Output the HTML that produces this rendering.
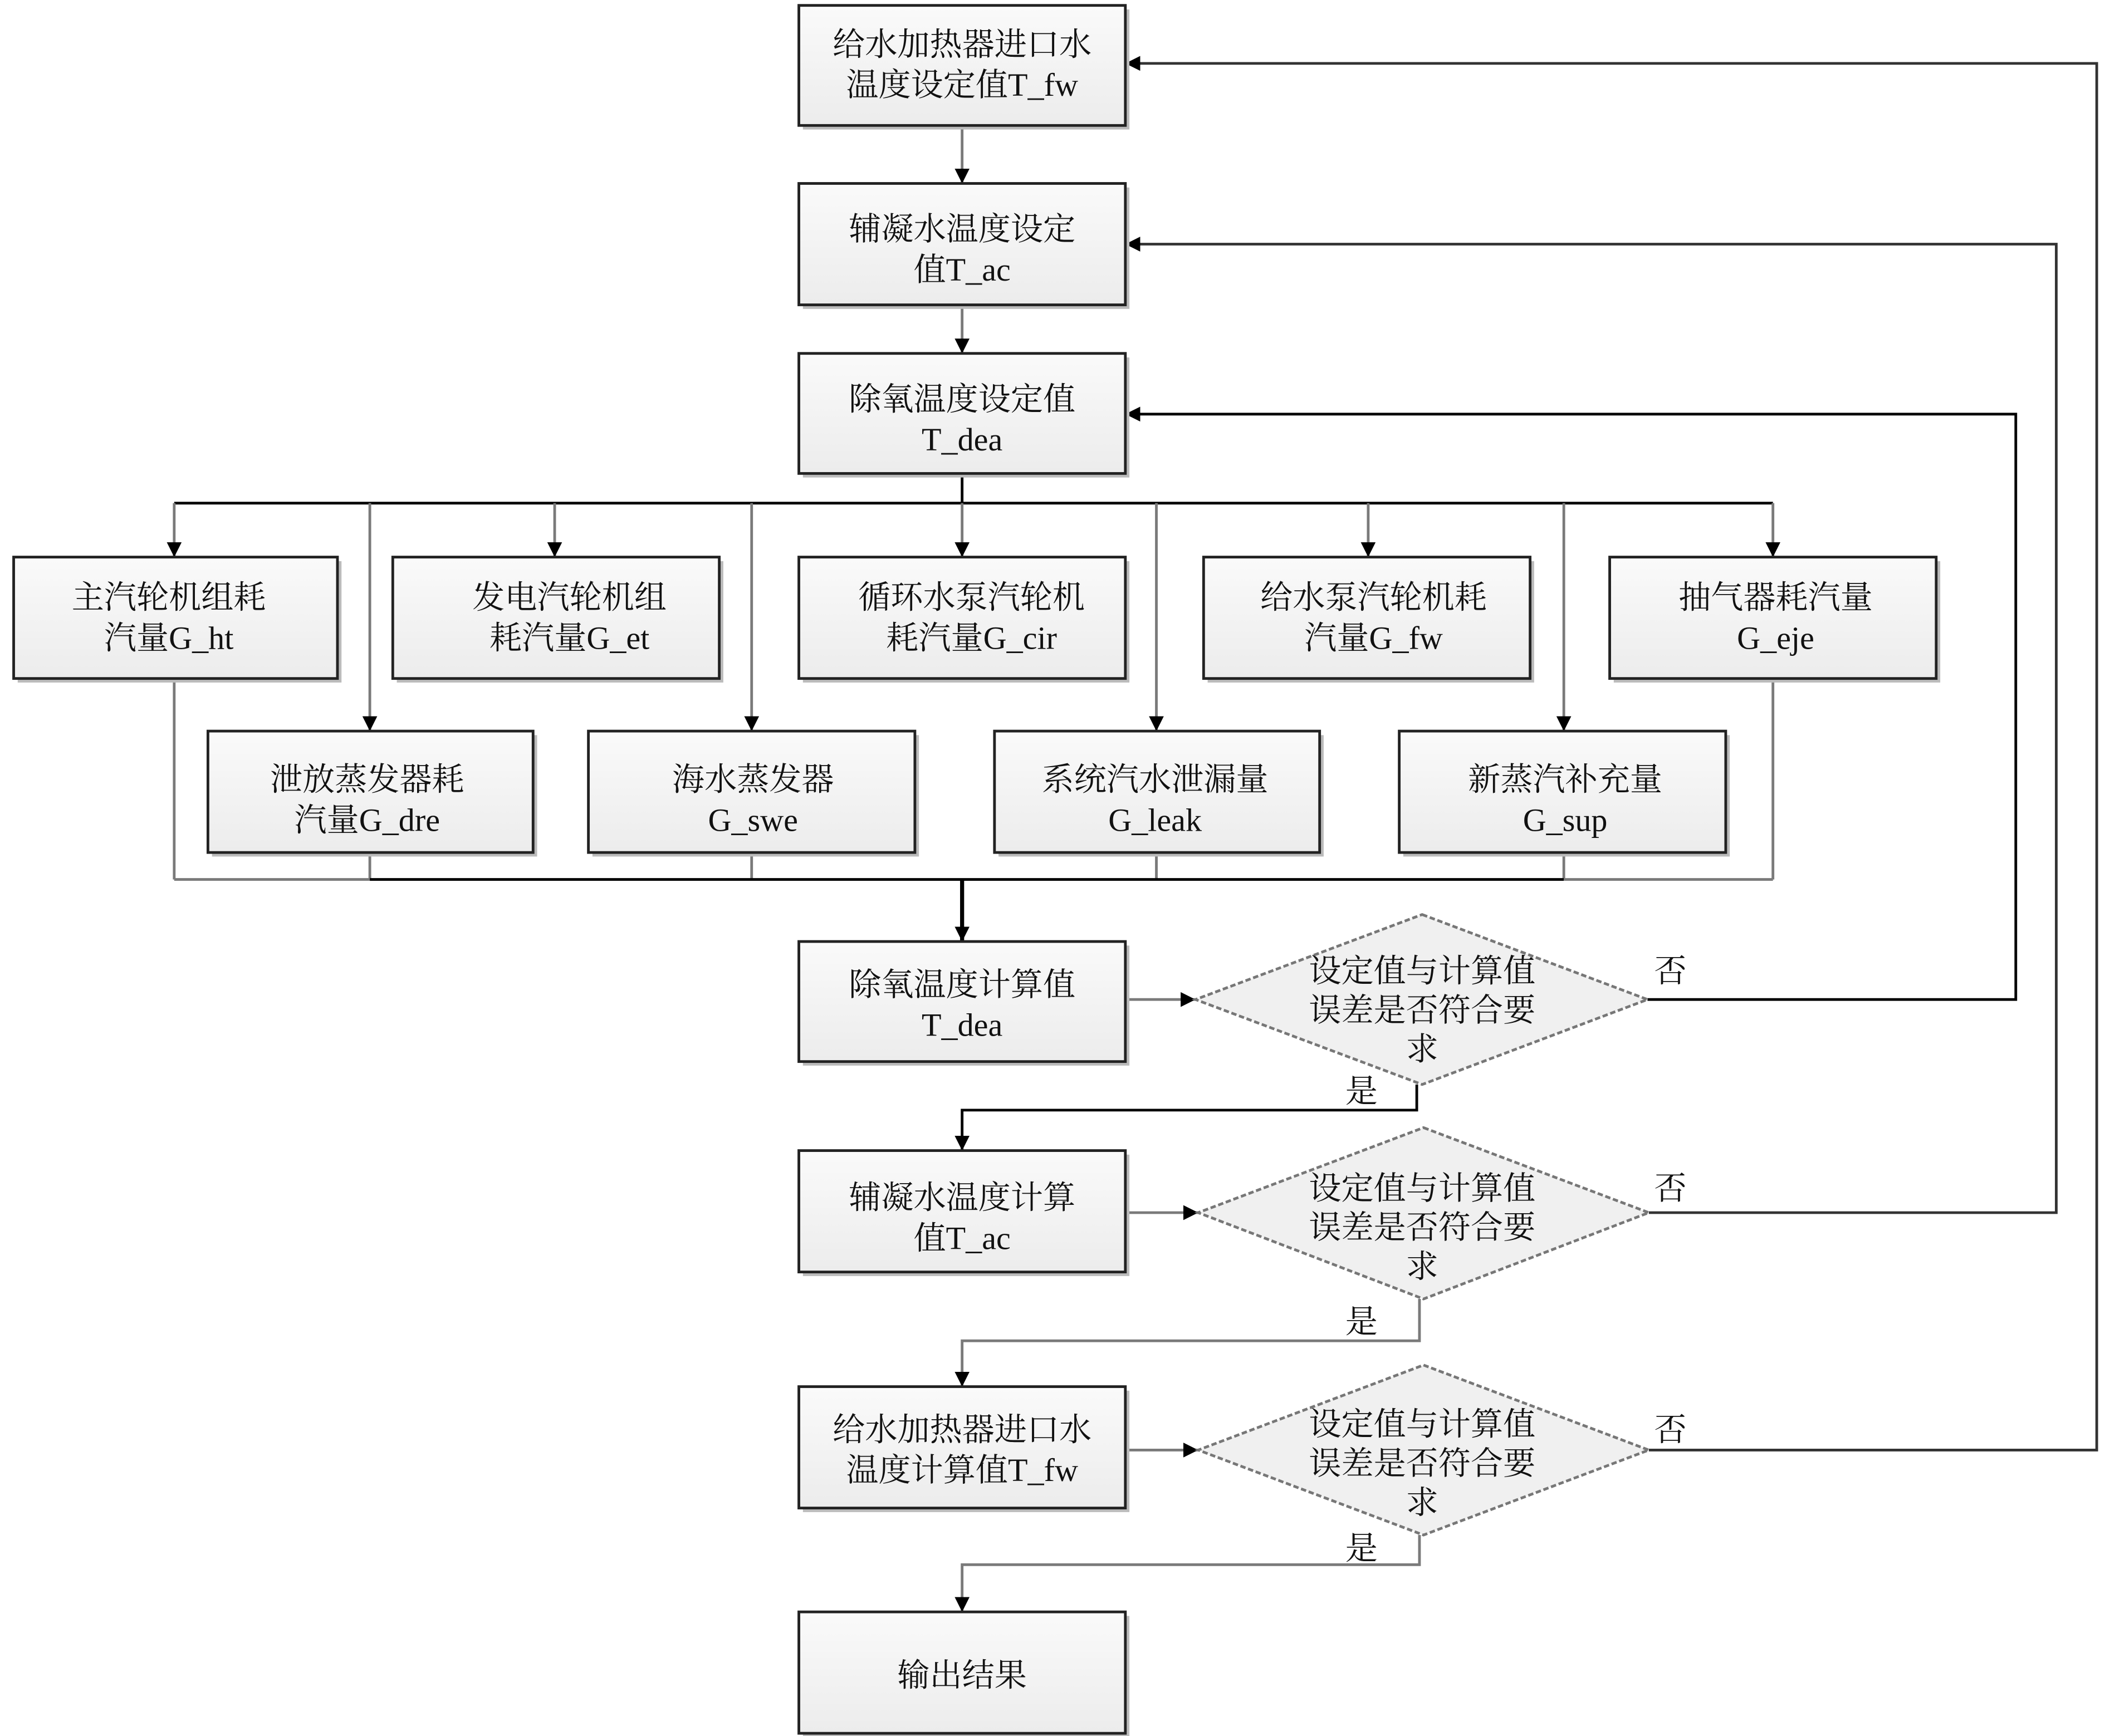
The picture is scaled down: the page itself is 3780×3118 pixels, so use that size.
<!DOCTYPE html>
<html><head><meta charset="utf-8"><style>
html,body{margin:0;padding:0;background:#fff;}
svg{display:block;}
text{font-family:"Liberation Serif","Noto Serif CJK SC",serif;font-size:24px;fill:#111;text-anchor:middle;}
</style></head><body>
<svg width="3780" height="3118" viewBox="0 0 1560 1287" xmlns="http://www.w3.org/2000/svg">
<defs>
<linearGradient id="g" x1="0" y1="0" x2="0" y2="1"><stop offset="0" stop-color="#fafafa"/><stop offset="1" stop-color="#ececec"/></linearGradient>
<marker id="a" viewBox="0 0 10 10" refX="10" refY="5" markerWidth="7" markerHeight="7" markerUnits="userSpaceOnUse" orient="auto"><path d="M0,0 L10,5 L0,10 z" fill="#000"/></marker>
<marker id="ab" viewBox="0 0 10 10" refX="10" refY="5" markerWidth="11" markerHeight="11" markerUnits="userSpaceOnUse" orient="auto"><path d="M0,0 L10,5 L0,10 z" fill="#000"/></marker>
</defs>
<g fill="none" stroke="#7a7a7a" stroke-width="2">
<!-- main vertical -->
<line x1="713" y1="93" x2="713" y2="136" marker-end="url(#ab)"/>
<line x1="713" y1="226" x2="713" y2="262" marker-end="url(#ab)"/>
<line x1="713" y1="351" x2="713" y2="373" stroke="#000"/>
<line x1="129" y1="373" x2="1314" y2="373" stroke="#000"/>
<line x1="129" y1="373" x2="129" y2="413" marker-end="url(#ab)"/>
<line x1="411" y1="373" x2="411" y2="413" marker-end="url(#ab)"/>
<line x1="713" y1="373" x2="713" y2="413" marker-end="url(#ab)"/>
<line x1="1014" y1="373" x2="1014" y2="413" marker-end="url(#ab)"/>
<line x1="1314" y1="373" x2="1314" y2="413" marker-end="url(#ab)"/>
<line x1="274" y1="373" x2="274" y2="542" marker-end="url(#ab)"/>
<line x1="557" y1="373" x2="557" y2="542" marker-end="url(#ab)"/>
<line x1="857" y1="373" x2="857" y2="542" marker-end="url(#ab)"/>
<line x1="1159" y1="373" x2="1159" y2="542" marker-end="url(#ab)"/>
<!-- collection -->
<line x1="129" y1="503" x2="129" y2="652"/>
<line x1="1314" y1="503" x2="1314" y2="652"/>
<line x1="274" y1="632" x2="274" y2="652"/>
<line x1="557" y1="632" x2="557" y2="652"/>
<line x1="857" y1="632" x2="857" y2="652"/>
<line x1="1159" y1="632" x2="1159" y2="652"/>
<line x1="129" y1="652" x2="274" y2="652"/>
<line x1="274" y1="652" x2="1159" y2="652" stroke="#000"/>
<line x1="1159" y1="652" x2="1314" y2="652"/>
<line x1="713" y1="652" x2="713" y2="698" stroke="#000" stroke-width="3" marker-end="url(#ab)"/>
<!-- decisions -->
<line x1="834" y1="741" x2="886" y2="741" marker-end="url(#ab)"/>
<polyline points="1221,741 1494,741 1494,307 834,307" marker-end="url(#ab)" stroke="#000"/>
<polyline points="1050,804 1050,823 713,823 713,853" marker-end="url(#ab)" stroke="#000"/>
<line x1="834" y1="899" x2="888" y2="899" marker-end="url(#ab)"/>
<polyline points="1222,899 1524,899 1524,181 834,181" marker-end="url(#ab)" stroke="#333"/>
<polyline points="1052,963 1052,994 713,994 713,1028" marker-end="url(#ab)"/>
<line x1="834" y1="1075" x2="888" y2="1075" marker-end="url(#ab)"/>
<polyline points="1222,1075 1554,1075 1554,47 834,47" marker-end="url(#ab)" stroke="#333"/>
<polyline points="1052,1138 1052,1160 713,1160 713,1195" marker-end="url(#ab)"/>
</g>
<!-- boxes -->
<g stroke="#222" stroke-width="2" fill="url(#g)">
<g fill="#bbb" stroke="none">
<rect x="595" y="7" width="242" height="89"/><rect x="595" y="139" width="242" height="90"/><rect x="595" y="265" width="242" height="89"/>
<rect x="13" y="416" width="240" height="90"/><rect x="294" y="416" width="242" height="90"/><rect x="595" y="416" width="242" height="90"/><rect x="895" y="416" width="242" height="90"/><rect x="1196" y="416" width="242" height="90"/>
<rect x="157" y="545" width="241" height="90"/><rect x="439" y="545" width="242" height="90"/><rect x="740" y="545" width="241" height="90"/><rect x="1040" y="545" width="242" height="90"/>
<rect x="595" y="701" width="242" height="89"/><rect x="595" y="856" width="242" height="90"/><rect x="595" y="1031" width="242" height="90"/><rect x="595" y="1198" width="242" height="90"/>
</g>
<rect x="592" y="4" width="242" height="89"/><rect x="592" y="136" width="242" height="90"/><rect x="592" y="262" width="242" height="89"/>
<rect x="10" y="413" width="240" height="90"/><rect x="291" y="413" width="242" height="90"/><rect x="592" y="413" width="242" height="90"/><rect x="892" y="413" width="242" height="90"/><rect x="1193" y="413" width="242" height="90"/>
<rect x="154" y="542" width="241" height="90"/><rect x="436" y="542" width="242" height="90"/><rect x="737" y="542" width="241" height="90"/><rect x="1037" y="542" width="242" height="90"/>
<rect x="592" y="698" width="242" height="89"/><rect x="592" y="853" width="242" height="90"/><rect x="592" y="1028" width="242" height="90"/><rect x="592" y="1195" width="242" height="90"/>
</g>
<g fill="#f0f0f0" stroke="#777" stroke-width="2" stroke-dasharray="4,2">
<polygon points="1054,678 1221,741 1054,804 886,741"/>
<polygon points="1055,836 1222,899 1055,963 888,899"/>
<polygon points="1055,1012 1222,1075 1055,1138 888,1075"/>
</g>
<!-- texts -->
<text x="713" y="41">给水加热器进口水</text><text x="713" y="71">温度设定值T_fw</text>
<text x="713" y="178">辅凝水温度设定</text><text x="713" y="208">值T_ac</text>
<text x="713" y="304">除氧温度设定值</text><text x="713" y="334">T_dea</text>
<text x="125" y="451">主汽轮机组耗</text><text x="125" y="481">汽量G_ht</text>
<text x="422" y="451">发电汽轮机组</text><text x="422" y="481">耗汽量G_et</text>
<text x="720" y="451">循环水泵汽轮机</text><text x="720" y="481">耗汽量G_cir</text>
<text x="1018" y="451">给水泵汽轮机耗</text><text x="1018" y="481">汽量G_fw</text>
<text x="1316" y="451">抽气器耗汽量</text><text x="1316" y="481">G_eje</text>
<text x="272" y="586">泄放蒸发器耗</text><text x="272" y="616">汽量G_dre</text>
<text x="558" y="586">海水蒸发器</text><text x="558" y="616">G_swe</text>
<text x="856" y="586">系统汽水泄漏量</text><text x="856" y="616">G_leak</text>
<text x="1160" y="586">新蒸汽补充量</text><text x="1160" y="616">G_sup</text>
<text x="713" y="738">除氧温度计算值</text><text x="713" y="768">T_dea</text>
<text x="713" y="896">辅凝水温度计算</text><text x="713" y="926">值T_ac</text>
<text x="713" y="1068">给水加热器进口水</text><text x="713" y="1098">温度计算值T_fw</text>
<text x="713" y="1250">输出结果</text>
<text x="1054" y="728">设定值与计算值</text><text x="1054" y="757">误差是否符合要</text><text x="1054" y="786">求</text>
<text x="1054" y="889">设定值与计算值</text><text x="1054" y="918">误差是否符合要</text><text x="1054" y="947">求</text>
<text x="1054" y="1064">设定值与计算值</text><text x="1054" y="1093">误差是否符合要</text><text x="1054" y="1122">求</text>
<text x="1238" y="728">否</text><text x="1238" y="889">否</text><text x="1238" y="1068">否</text>
<text x="1009" y="817">是</text><text x="1009" y="988">是</text><text x="1009" y="1156">是</text>
</svg>
</body></html>
